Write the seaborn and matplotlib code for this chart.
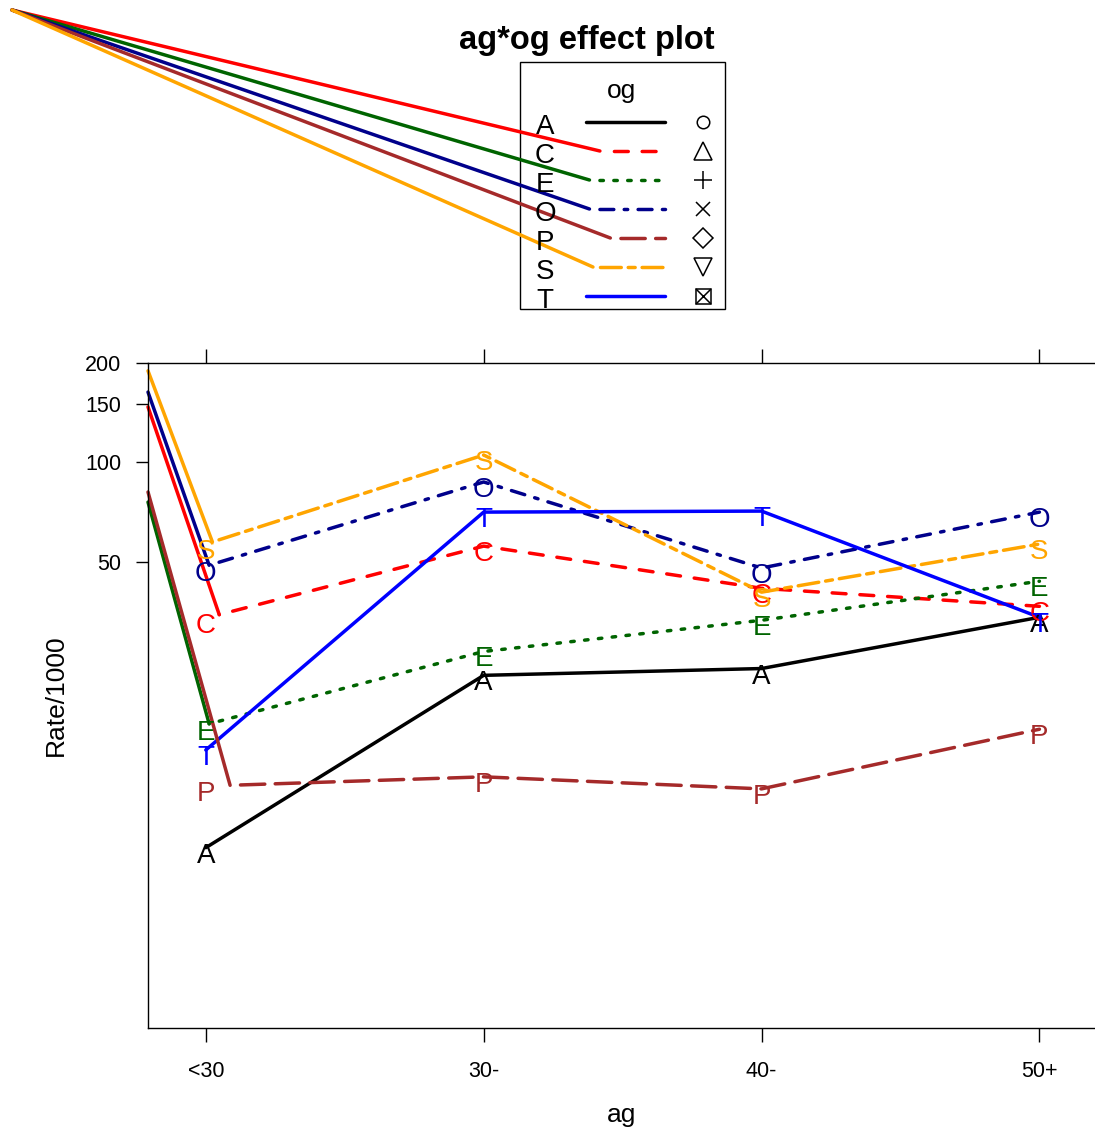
import numpy as np
import pandas as pd
import matplotlib
matplotlib.use('Agg')
import matplotlib.pyplot as plt
import matplotlib.colors as mcolors
import matplotlib.transforms as mtransforms
from matplotlib.patches import Rectangle
from matplotlib.ticker import NullLocator
import seaborn as sns

sns.set_theme(style='ticks')
plt.rcParams['font.family'] = ['Liberation Sans', 'DejaVu Sans']
plt.rcParams['text.color'] = 'black'
plt.rcParams['axes.labelcolor'] = 'black'
plt.rcParams['xtick.color'] = 'black'
plt.rcParams['ytick.color'] = 'black'

# ag*og effects, Rate/1000
ag_levels = ['<30', '30-', '40-', '50+']
og_levels = ['A', 'C', 'E', 'O', 'P', 'S', 'T']
rate_A = [6.84, 22.7, 23.8, 34.0]
rate_C = [33.8, 55.8, 41.6, 36.7]
rate_E = [16.1, 26.8, 33.3, 43.7]
rate_O = [48.5, 87.2, 47.9, 70.7]
rate_P = [10.5, 11.2, 10.3, 15.6]
rate_S = [56.6, 105.2, 40.5, 56.6]
rate_T = [13.5, 70.7, 71.2, 34.0]
# the broken first dash of the patterned lines starts at the left panel edge at these rates
stray_C, stray_E, stray_O, stray_P, stray_S = 147, 75.8, 163, 81.3, 189

og_colors = ['black', 'red', 'darkgreen', 'darkblue', 'brown', 'orange', 'blue']
# R lty 1..6, 1
og_dashes = {'A': '', 'C': (4, 4), 'E': (1, 3), 'O': (1, 3, 4, 3),
             'P': (7, 3), 'S': (2, 2, 6, 2), 'T': ''}
stray = {'C': stray_C, 'E': stray_E, 'O': stray_O, 'P': stray_P, 'S': stray_S}
LW = 2.5

df = pd.DataFrame({
    'pos': np.tile(np.arange(len(ag_levels)), len(og_levels)),
    'og': np.repeat(og_levels, len(ag_levels)),
    'rate': np.concatenate([rate_A, rate_C, rate_E, rate_O, rate_P, rate_S, rate_T]),
})
palette = dict(zip(og_levels, og_colors))

W, H = 1095, 1131
fig = plt.figure(figsize=(W / 100, H / 100), dpi=100)
ax = fig.add_axes([148 / W, 1 - 1028 / H, 1 - 148 / W, (1028 - 362.7) / H])

sns.lineplot(data=df, x='pos', y='rate', hue='og', style='og',
             hue_order=og_levels, style_order=og_levels, palette=palette,
             dashes=og_dashes, estimator=None, sort=False, legend=False,
             lw=LW, ax=ax)

ax.set_yscale('log')
ax.set_xlim(-0.208, 3.20)
ax.set_ylim(1.95, 200)
ax.set_xticks(range(len(ag_levels)))
ax.set_xticklabels(ag_levels)
ax.set_yticks([50, 100, 150, 200])
ax.set_yticklabels(['50', '100', '150', '200'])
ax.yaxis.set_minor_locator(NullLocator())
ax.tick_params(axis='x', which='both', top=True, bottom=True, direction='out',
               length=10, width=1, labelsize=15.5, pad=13.5, color='black')
ax.tick_params(axis='y', which='both', left=True, right=False, direction='out',
               length=9, width=1, labelsize=15.5, pad=10, color='black')
for side in ['left', 'top', 'bottom']:
    ax.spines[side].set_color('black')
    ax.spines[side].set_linewidth(1)
ax.spines['right'].set_visible(False)
ax.set_xlabel('ag', fontsize=19)
ax.set_ylabel('Rate/1000', fontsize=19)
ax.xaxis.set_label_coords(0.5005, -0.112)
ax.yaxis.set_label_coords(-0.0849, 0.5)

# first dash of each patterned line gets drawn from a stray point
lw_px = LW * fig.dpi / 72
hex2og = {mcolors.to_hex(c): g for g, c in palette.items()}
for line in list(ax.lines):
    g = hex2og.get(mcolors.to_hex(line.get_color()))
    if g is None:
        continue
    line.set_solid_capstyle('round')
    line.set_dash_capstyle('round')
    pat = og_dashes[g]
    if not pat:
        continue
    xs, ys = [np.asarray(a, dtype=float) for a in line.get_data()]
    pts = ax.transData.transform(np.column_stack([xs, ys]))
    d = pts[1] - pts[0]
    d = d / np.hypot(*d)
    x1, y1 = ax.transData.inverted().transform(pts[0] + d * pat[0] * lw_px)
    line.set_data(np.r_[x1, xs[1:]], np.r_[y1, ys[1:]])
    line.set_linestyle((pat[0], pat))
    ax.plot([ax.get_xlim()[0], x1], [stray[g], y1], color=palette[g], lw=LW,
            solid_capstyle='round', clip_on=False)

# point labels
lab_tr = mtransforms.offset_copy(ax.transData, fig=fig, x=0, y=-15, units='dots')
for g in og_levels:
    sub = df[df['og'] == g]
    for p, r in zip(sub['pos'], sub['rate']):
        ax.text(p, r, g, color=palette[g], fontsize=20, ha='center',
                va='baseline', transform=lab_tr)

# title and key, laid out in pixel space
lax = fig.add_axes([0, 0, 1, 1], zorder=5)
lax.set_xlim(0, W)
lax.set_ylim(H, 0)
lax.axis('off')
lax.patch.set_alpha(0)
lax.text(587, 40, 'ag*og effect plot', fontsize=23.5, weight='bold',
         ha='center', va='center', color='black')
lax.add_patch(Rectangle((520, 62), 205, 247, fill=False, lw=1, ec='black'))
lax.text(622, 98, 'og', fontsize=19, ha='center', va='baseline', color='black')
symbols = ['o', '^', '+', 'x', 'D', 'v', 'boxx']
sym_size = {'o': 9, '^': 13.5, '+': 13.5, 'x': 10.5, 'D': 10.5, 'v': 13.5, 'boxx': 10.8}
for i, g in enumerate(og_levels):
    y = 122 + 29 * i
    lax.text(545, y + 12, g, fontsize=20, ha='center', va='baseline', color='black')
    pat = og_dashes[g]
    if not pat:
        lax.plot([586, 665], [y, y], color=palette[g], lw=LW, solid_capstyle='round')
    else:
        start = 586 + pat[0] * lw_px
        lax.plot([start, 665], [y, y], color=palette[g], lw=LW,
                 linestyle=(pat[0], pat), dash_capstyle='round')
        lax.plot([12, start], [10, y], color=palette[g], lw=LW,
                 solid_capstyle='round', clip_on=False)
    m = symbols[i]
    if m == 'boxx':
        lax.plot(703, y, marker='s', ms=sym_size[m], mfc='none', mec='black', mew=1.1)
        lax.plot(703, y, marker='x', ms=sym_size[m], mec='black', mew=1.1)
    else:
        lax.plot(703, y, marker=m, ms=sym_size[m], mfc='none', mec='black', mew=1.1)

fig.savefig('out.png', dpi=100)
